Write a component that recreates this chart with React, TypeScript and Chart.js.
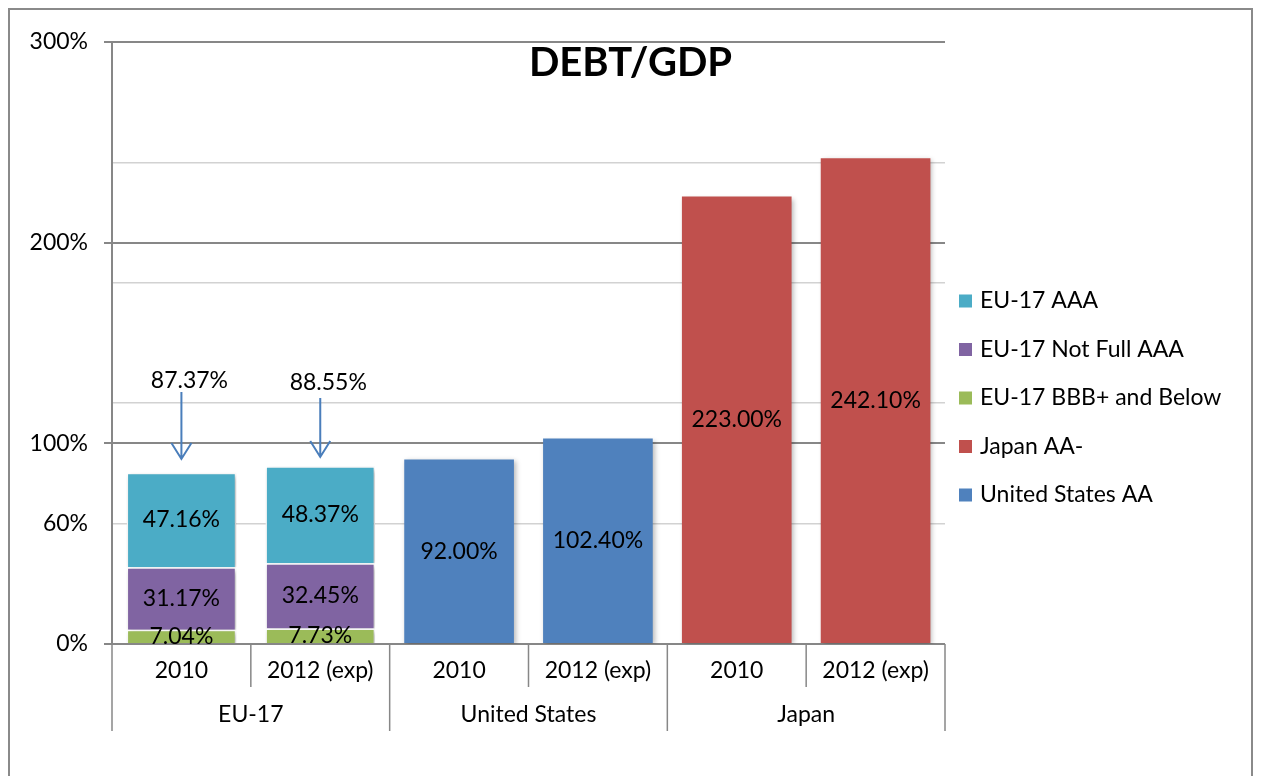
import React, { useEffect, useRef } from "react";
import { Chart, registerables } from "chart.js";
Chart.register(...registerables);

const chartTitle = "DEBT/GDP";
const categoryYears = ["2010", "2012 (exp)", "2010", "2012 (exp)", "2010", "2012 (exp)"];
const categoryGroups = ["EU-17", "EU-17", "United States", "United States", "Japan", "Japan"];

const seriesNames = ["United States AA", "Japan AA-", "EU-17 BBB+ and Below", "EU-17 Not Full AAA", "EU-17 AAA"];
const seriesColors = ["#4f81bd", "#c0504d", "#9bbb59", "#8064a2", "#4bacc6"];
const usAA = [null, null, 92.0, 102.4, null, null];
const japanAAminus = [null, null, null, null, 223.0, 242.1];
const euBBBandBelow = [7.04, 7.73, null, null, null, null];
const euNotFullAAA = [31.17, 32.45, null, null, null, null];
const euAAA = [47.16, 48.37, null, null, null, null];

const yTickValues = [0, 60, 100, 120, 180, 200, 240, 300];
const yLabelledTicks = [0, 60, 100, 200, 300];
const yMajorTicks = [0, 100, 200, 300];

const totalLabels = ["87.37%", "88.55%"];
const totalCategoryIndex = [0, 1];
const totalTextValue = [131.5, 130.5];
const arrowStartValue = [125.6, 122.6];
const arrowTipValue = [92.2, 93.2];

const FONT = "Lato, 'Open Sans', sans-serif";

const customPlugin = {
  id: "custom",
  beforeDatasetsDraw(chart: any) {
    const ctx = chart.ctx;
    ctx.save();
    ctx.shadowColor = "rgba(0,0,0,0.28)";
    ctx.shadowBlur = 5;
    ctx.shadowOffsetX = 2;
    ctx.shadowOffsetY = 2;
  },
  afterDatasetsDraw(chart: any) {
    const ctx = chart.ctx;
    ctx.restore();
    const area = chart.chartArea;
    const xs = chart.scales.x;
    const ys = chart.scales.y;

    // data labels
    ctx.save();
    ctx.fillStyle = "#000";
    ctx.font = `23px ${FONT}`;
    ctx.textAlign = "center";
    ctx.textBaseline = "middle";
    chart.data.datasets.forEach((ds: any, di: number) => {
      const meta = chart.getDatasetMeta(di);
      meta.data.forEach((el: any, i: number) => {
        const v = ds.data[i];
        if (v === null || v === undefined) return;
        ctx.fillText(v.toFixed(2) + "%", el.x, (el.y + el.base) / 2);
      });
    });
    ctx.restore();

    // total annotations with arrows
    ctx.save();
    totalLabels.forEach((lab, k) => {
      const cx = xs.getPixelForValue(totalCategoryIndex[k]);
      ctx.fillStyle = "#000";
      ctx.font = `23px ${FONT}`;
      ctx.textAlign = "center";
      ctx.textBaseline = "middle";
      ctx.fillText(lab, cx + 8, ys.getPixelForValue(totalTextValue[k]));
      const y0 = ys.getPixelForValue(arrowStartValue[k]);
      const y1 = ys.getPixelForValue(arrowTipValue[k]);
      ctx.strokeStyle = "#4a7ebb";
      ctx.lineWidth = 2;
      ctx.beginPath();
      ctx.moveTo(cx, y0);
      ctx.lineTo(cx, y1);
      ctx.moveTo(cx - 10, y1 - 16);
      ctx.lineTo(cx, y1);
      ctx.lineTo(cx + 10, y1 - 16);
      ctx.stroke();
    });
    ctx.restore();

    // category axis (two levels)
    ctx.save();
    const n = categoryYears.length;
    const bottom = area.bottom;
    ctx.strokeStyle = "#878787";
    ctx.lineWidth = 1.5;
    for (let i = 0; i <= n; i++) {
      let bx;
      if (i === 0) bx = area.left;
      else if (i === n) bx = area.right;
      else bx = (xs.getPixelForValue(i - 1) + xs.getPixelForValue(i)) / 2;
      const isGroup = i === 0 || i === n || categoryGroups[i] !== categoryGroups[i - 1];
      ctx.beginPath();
      ctx.moveTo(bx, bottom);
      ctx.lineTo(bx, bottom + (isGroup ? 87 : 43));
      ctx.stroke();
    }
    ctx.fillStyle = "#000";
    ctx.font = `23px ${FONT}`;
    ctx.textAlign = "center";
    ctx.textBaseline = "middle";
    for (let i = 0; i < n; i++) {
      ctx.fillText(categoryYears[i], xs.getPixelForValue(i), bottom + 27);
    }
    let start = 0;
    for (let i = 1; i <= n; i++) {
      if (i === n || categoryGroups[i] !== categoryGroups[start]) {
        const c = (xs.getPixelForValue(start) + xs.getPixelForValue(i - 1)) / 2;
        ctx.fillText(categoryGroups[start], c, bottom + 71);
        start = i;
      }
    }
    ctx.restore();

    // legend (reverse order)
    ctx.save();
    const spacing = 48.5;
    const items = chart.data.datasets.map((d: any) => d).reverse();
    const y0 = chart.height / 2 - spacing * 2;
    ctx.font = `23px ${FONT}`;
    ctx.textAlign = "left";
    ctx.textBaseline = "middle";
    items.forEach((ds: any, k: number) => {
      const y = y0 + k * spacing;
      ctx.fillStyle = ds.backgroundColor;
      ctx.fillRect(area.right + 14, y - 6.5, 13, 13);
      ctx.fillStyle = "#000";
      ctx.fillText(ds.label, area.right + 35, y);
    });
    ctx.restore();

    // title
    ctx.save();
    ctx.fillStyle = "#000";
    ctx.font = `bold 40px ${FONT}`;
    ctx.textAlign = "center";
    ctx.textBaseline = "middle";
    ctx.fillText(chartTitle, chart.width / 2, area.top + 21);
    ctx.restore();
  },
};

export default function App() {
  const ref = useRef<HTMLCanvasElement | null>(null);
  useEffect(() => {
    if (!ref.current) return;
    const seriesData = [usAA, japanAAminus, euBBBandBelow, euNotFullAAA, euAAA];
    const chart = new Chart(ref.current, {
      type: "bar",
      data: {
        labels: categoryYears,
        datasets: seriesNames.map((name, i) => ({
          label: name,
          data: seriesData[i] as any,
          backgroundColor: seriesColors[i],
          borderColor: "#ffffff",
          borderWidth: i >= 2 ? 1.5 : 0,
          categoryPercentage: 1,
          barPercentage: 0.79,
        })),
      },
      options: {
        animation: false,
        responsive: true,
        maintainAspectRatio: false,
        layout: { padding: { left: 0, right: 306, top: 32, bottom: 142 } },
        plugins: { legend: { display: false }, title: { display: false }, tooltip: { enabled: false } },
        scales: {
          x: { stacked: true, display: false },
          y: {
            stacked: true,
            min: 0,
            max: 300,
            afterBuildTicks: (scale: any) => {
              scale.ticks = yTickValues.map((v) => ({ value: v }));
            },
            afterFit: (scale: any) => {
              scale.width = 102;
            },
            border: { display: true, color: "#878787", width: 2 },
            grid: {
              color: (c: any) => (yMajorTicks.includes(c.tick?.value) ? "#878787" : "#d2d2d2"),
              tickColor: (c: any) => (yMajorTicks.includes(c.tick?.value) ? "#878787" : "rgba(0,0,0,0)"),
              lineWidth: (c: any) => (yMajorTicks.includes(c.tick?.value) ? 2 : 1.5),
              tickLength: 8,
            },
            ticks: {
              padding: 16,
              color: "#000",
              font: { family: FONT, size: 23 },
              callback: (v: any) => (yLabelledTicks.includes(Number(v)) ? `${v}%` : ""),
            },
          },
        },
      },
      plugins: [customPlugin],
    });
    return () => chart.destroy();
  }, []);
  return (
    <div
      style={{
        width: 1245,
        height: 780,
        border: "2px solid #8a8a8a",
        boxSizing: "border-box",
        position: "relative",
        background: "#fff",
      }}
    >
      <canvas ref={ref} />
    </div>
  );
}
